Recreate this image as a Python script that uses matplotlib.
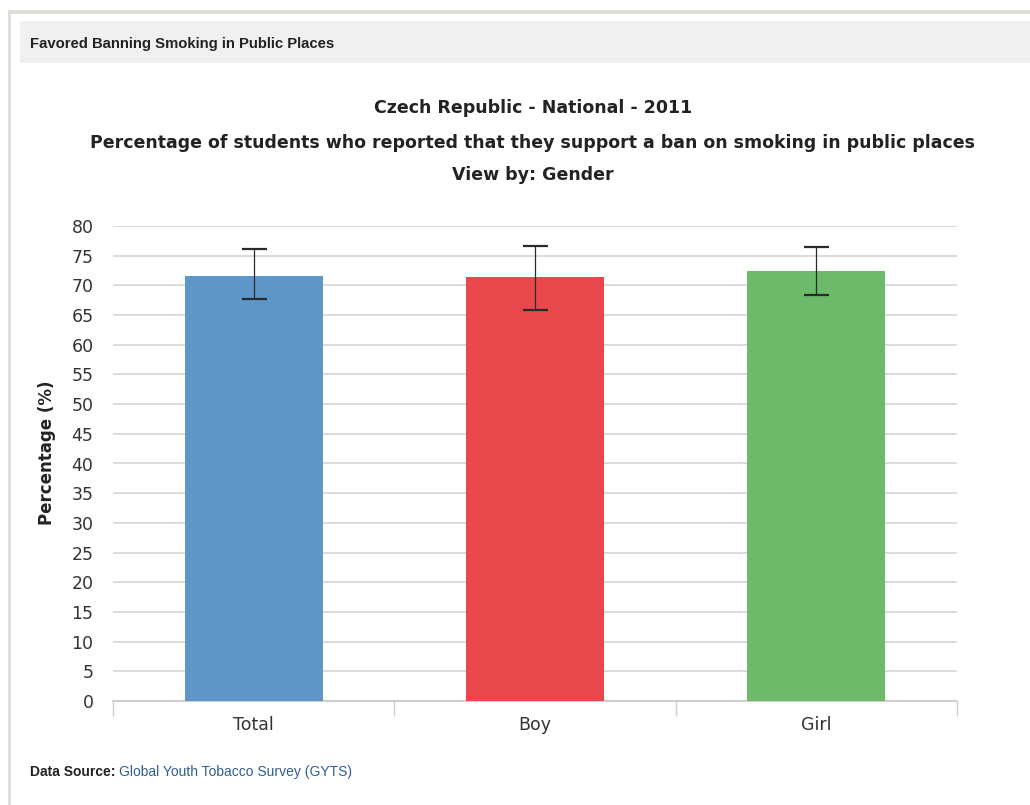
import matplotlib
matplotlib.use("Agg")
import matplotlib.pyplot as plt
from matplotlib.patches import Rectangle

categories = ["Total", "Boy", "Girl"]
values = [71.6, 71.4, 72.5]
err_low = [67.7, 65.9, 68.3]
err_high = [76.2, 76.7, 76.5]
colors = ["#5f96c8", "#e8474b", "#6cba6a"]
yticks = list(range(0, 81, 5))

title_lines = ["Czech Republic - National - 2011",
               "Percentage of students who reported that they support a ban on smoking in public places",
               "View by: Gender"]

W, H = 1030, 805
fig = plt.figure(figsize=(W / 100, H / 100), dpi=100)
plt.rcParams['font.family'] = ['Liberation Sans', 'DejaVu Sans']
CH = ['DejaVu Sans']  # chart text family (wider)

def fx(px):
    return px / W

def fy(py):
    return 1 - py / H

# outer frame
fig.patches.append(Rectangle((fx(8), fy(805)), fx(3), fy(12) - fy(805), transform=fig.transFigure,
                             facecolor="#dcdfd6", edgecolor="none", zorder=0))
fig.patches.append(Rectangle((fx(8), fy(14)), 1 - fx(8), fy(10) - fy(14), transform=fig.transFigure,
                             facecolor="#dcdfd6", edgecolor="none", zorder=0))
# header band
fig.patches.append(Rectangle((fx(20), fy(63)), 1 - fx(20), fy(21) - fy(63), transform=fig.transFigure,
                             facecolor="#f0f0f0", edgecolor="none", zorder=0))
fig.text(fx(30), fy(44), "Favored Banning Smoking in Public Places", fontsize=10.7, fontweight="bold",
         color="#222222", va="center", ha="left")

# chart titles, sized so that the long line spans the same width as the reference
probe = fig.text(0, 0, title_lines[1], fontsize=10, fontweight="bold", family=CH)
fig.canvas.draw()
wid = probe.get_window_extent().width
probe.remove()
tsize = min(12.5, 10 * 907 / wid)
for line, ypx in zip(title_lines, [108, 143, 175]):
    fig.text(fx(533), fy(ypx), line, fontsize=tsize, fontweight="bold", family=CH,
             color="#222222", ha="center", va="center")

ax = fig.add_axes([fx(113), fy(701), fx(957) - fx(113), fy(226) - fy(701)])
x = list(range(len(categories)))
ax.bar(x, values, width=0.49, color=colors, zorder=3)
yerr = [[v - lo for v, lo in zip(values, err_low)], [hi - v for v, hi in zip(values, err_high)]]
ax.errorbar(x, values, yerr=yerr, fmt="none", ecolor="#2a2a2a", elinewidth=0.9,
            capsize=9, capthick=1.6, zorder=4)

ax.set_xlim(-0.5, len(categories) - 0.5)
ax.set_ylim(0, 80)
ax.set_yticks(yticks)
ax.set_yticklabels([str(t) for t in yticks], fontsize=12.5, color="#333333", family=CH)
ax.yaxis.grid(True, color="#d4d4d4", linewidth=1.2, zorder=0)
ax.set_axisbelow(True)
ax.tick_params(axis="y", length=0, pad=14)

ax.set_xticks([i - 0.5 for i in range(len(categories) + 1)])
ax.set_xticklabels([])
ax.set_xticks(x, minor=True)
ax.set_xticklabels(categories, minor=True, fontsize=12.5, color="#333333", family=CH)
ax.tick_params(axis="x", which="major", length=11, color="#cccccc", width=1)
ax.tick_params(axis="x", which="minor", length=0, pad=11)

for s in ["top", "right", "left"]:
    ax.spines[s].set_visible(False)
ax.spines["bottom"].set_color("#c8c8c8")
ax.spines["bottom"].set_linewidth(1.2)

ax.set_ylabel("Percentage (%)", fontsize=12, fontweight="bold", color="#222222", family=CH,
              va="center")
ax.yaxis.set_label_coords((47 - 113) / (957 - 113), (701 - 453) / (701 - 226))

t1 = fig.text(fx(30), fy(772), "Data Source: ", fontsize=10, fontweight="bold", color="#222222",
              ha="left", va="center")
fig.canvas.draw()
bb = t1.get_window_extent()
fig.text(bb.x1 / W, fy(772), "Global Youth Tobacco Survey (GYTS)", fontsize=10, color="#2f5f8f",
         ha="left", va="center")

fig.savefig("out.png", dpi=100, facecolor="white")
